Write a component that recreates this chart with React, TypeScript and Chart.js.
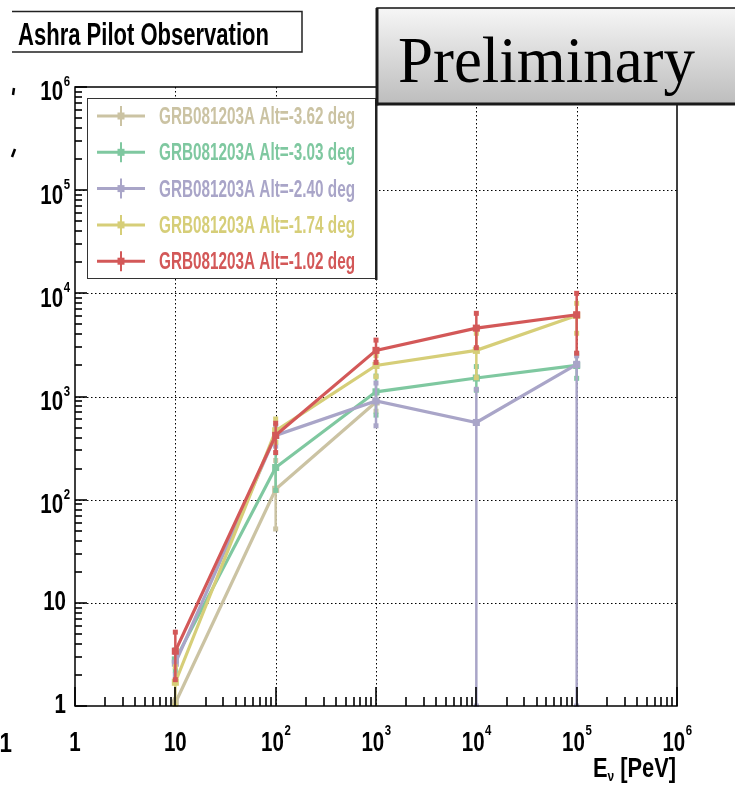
import React, { useEffect, useRef } from "react";
import { Chart, registerables } from "chart.js";

Chart.register(...registerables);

// ---------------- data ----------------
const energies = [10, 100, 1000, 10000, 100000];

const seriesLabels = [
  "GRB081203A Alt=-3.62 deg",
  "GRB081203A Alt=-3.03 deg",
  "GRB081203A Alt=-2.40 deg",
  "GRB081203A Alt=-1.74 deg",
  "GRB081203A Alt=-1.02 deg",
];
const seriesColors = ["#cbc3a3", "#7fc8a0", "#a9a5c8", "#d6ce78", "#d35858"];

const alt362 = [1.07, 126, 885, null, null];
const alt362Lo = [1.0, 52, 720, null, null];
const alt362Hi = [1.15, 240, 1080, null, null];

const alt303 = [2.8, 205, 1110, 1510, 2000];
const alt303Lo = [2.2, 123, 660, 1150, 1500];
const alt303Hi = [3.5, 360, 1580, 1950, 2600];

const alt240 = [2.6, 420, 905, 560, 2050];
const alt240Lo = [2.0, 330, 520, 1, 1];
const alt240Hi = [3.3, 520, 1350, 1175, 2480];

const alt174 = [1.7, 465, 2000, 2800, 6100];
const alt174Lo = [1, 360, 1550, 1520, 4100];
const alt174Hi = [2.4, 605, 2500, 4100, 8000];

const alt102 = [3.4, 420, 2800, 4600, 6200];
const alt102Lo = [1.8, 286, 2140, 2970, 2630];
const alt102Hi = [5.2, 550, 3520, 6400, 10000];

const seriesValues = [alt362, alt303, alt240, alt174, alt102];
const seriesLo = [alt362Lo, alt303Lo, alt240Lo, alt174Lo, alt102Lo];
const seriesHi = [alt362Hi, alt303Hi, alt240Hi, alt174Hi, alt102Hi];

const decades = [1, 10, 100, 1000, 10000, 100000, 1000000];
const tickBase = ["1", "10", "10", "10", "10", "10", "10"];
const tickExp = ["", "", "2", "3", "4", "5", "6"];

const titleText = "Ashra Pilot Observation";
const stampText = "Preliminary";
const xTitleMain = "E";
const xTitleSub = "\u03bd";
const xTitleRest = " [PeV]";

// ---------------- helpers ----------------
const SANS = "'Liberation Sans', Arial, sans-serif";

function drawScaled(
  ctx: CanvasRenderingContext2D,
  text: string,
  x: number,
  y: number,
  font: string,
  sx: number,
  align: "left" | "center" | "right",
  color: string
) {
  ctx.save();
  ctx.font = font;
  const w = ctx.measureText(text).width * sx;
  const left = align === "right" ? x - w : align === "center" ? x - w / 2 : x;
  ctx.translate(left, y);
  ctx.scale(sx, 1);
  ctx.textAlign = "left";
  ctx.textBaseline = "middle";
  ctx.fillStyle = color;
  ctx.fillText(text, 0, 0);
  ctx.restore();
  return w;
}

function measureScaled(ctx: CanvasRenderingContext2D, text: string, font: string, sx: number) {
  ctx.save();
  ctx.font = font;
  const w = ctx.measureText(text).width * sx;
  ctx.restore();
  return w;
}

function fitText(
  ctx: CanvasRenderingContext2D,
  text: string,
  left: number,
  y: number,
  font: string,
  width: number,
  color: string
) {
  ctx.save();
  ctx.font = font;
  const w = ctx.measureText(text).width;
  const sx = width / w;
  ctx.translate(left, y);
  ctx.scale(sx, 1);
  ctx.textAlign = "left";
  ctx.textBaseline = "alphabetic";
  ctx.fillStyle = color;
  ctx.fillText(text, 0, 0);
  ctx.restore();
}

const BASE_FONT = `bold 27px ${SANS}`;
const EXP_FONT = `bold 15px ${SANS}`;
const SX = 0.76;

function line(ctx: CanvasRenderingContext2D, x1: number, y1: number, x2: number, y2: number) {
  ctx.beginPath();
  ctx.moveTo(x1, y1);
  ctx.lineTo(x2, y2);
  ctx.stroke();
}

const rootPlugin = {
  id: "rootStyle",
  beforeDraw(chart: any) {
    const { ctx, width, height } = chart;
    ctx.save();
    ctx.fillStyle = "#ffffff";
    ctx.fillRect(0, 0, width, height);
    ctx.restore();
  },
  beforeDatasetsDraw(chart: any) {
    const { ctx, chartArea: a, scales } = chart;
    const xs = scales.x;
    const ys = scales.y;
    ctx.save();
    ctx.strokeStyle = "#000";
    ctx.lineWidth = 1;
    ctx.setLineDash([1.5, 2.5]);
    decades.slice(1, -1).forEach((d) => {
      const px = Math.round(xs.getPixelForValue(d)) + 0.5;
      line(ctx, px, a.top, px, a.bottom);
      const py = Math.round(ys.getPixelForValue(d)) + 0.5;
      line(ctx, a.left, py, a.right, py);
    });
    ctx.restore();
  },
  afterDatasetDraw(chart: any, args: any) {
    const i = args.index;
    const { ctx, chartArea: a, scales } = chart;
    const xs = scales.x;
    const ys = scales.y;
    const lo = seriesLo[i];
    const hi = seriesHi[i];
    const color = seriesColors[i];
    ctx.save();
    ctx.beginPath();
    ctx.rect(a.left, a.top - 1, a.right - a.left, a.bottom - a.top + 2);
    ctx.clip();
    ctx.strokeStyle = color;
    ctx.fillStyle = color;
    ctx.lineWidth = 2.5;
    energies.forEach((e, k) => {
      const l = lo[k];
      const h = hi[k];
      if (l == null || h == null) return;
      const px = xs.getPixelForValue(e);
      const pl = ys.getPixelForValue(l);
      const ph = ys.getPixelForValue(h);
      line(ctx, px, pl, px, ph);
      ctx.fillRect(px - 2.5, ph - 2.5, 5, 5);
      ctx.fillRect(px - 2.5, pl - 2.5, 5, 5);
    });
    ctx.restore();
  },
  afterDraw(chart: any) {
    const { ctx, chartArea: a, scales } = chart;
    const xs = scales.x;
    const ys = scales.y;
    ctx.save();
    ctx.setLineDash([]);

    // frame
    ctx.strokeStyle = "#000000";
    ctx.lineWidth = 1.5;
    ctx.strokeRect(a.left, a.top, a.right - a.left, a.bottom - a.top);

    // inner ticks (bottom & left)
    ctx.lineWidth = 1.6;
    ctx.strokeStyle = "#000000";
    for (let di = 0; di < decades.length; di++) {
      const d = decades[di];
      const pxMaj = Math.round(xs.getPixelForValue(d));
      line(ctx, pxMaj, a.bottom, pxMaj, a.bottom - 19);
      const pyMaj = Math.round(ys.getPixelForValue(d));
      line(ctx, a.left, pyMaj, a.left + 12, pyMaj);
      if (di === decades.length - 1) break;
      for (let k = 2; k <= 9; k++) {
        const px = Math.round(xs.getPixelForValue(d * k));
        line(ctx, px, a.bottom, px, a.bottom - 9);
        const py = Math.round(ys.getPixelForValue(d * k));
        line(ctx, a.left, py, a.left + 7, py);
      }
    }

    // tick labels
    decades.forEach((d, i) => {
      const base = tickBase[i];
      const exp = tickExp[i];
      const bw = measureScaled(ctx, base, BASE_FONT, SX);
      const ew = exp ? measureScaled(ctx, exp, EXP_FONT, SX) : 0;
      // x labels
      const px = xs.getPixelForValue(d);
      const total = bw + ew;
      const left = px - total / 2;
      drawScaled(ctx, base, left, 744, BASE_FONT, SX, "left", "#000");
      if (exp) drawScaled(ctx, exp, left + bw + 0.5, 731, EXP_FONT, SX, "left", "#000");
      // y labels
      const py = ys.getPixelForValue(d);
      if (exp) {
        const right = 70;
        drawScaled(ctx, exp, right, py - 5, EXP_FONT, SX, "right", "#000");
        drawScaled(ctx, base, right - ew - 0.5, py + 6, BASE_FONT, SX, "right", "#000");
      } else {
        drawScaled(ctx, base, 66, py, BASE_FONT, SX, "right", "#000");
      }
    });

    // x-axis title
    {
      const mainF = `bold 28px ${SANS}`;
      const subF = `bold 14px ${SANS}`;
      const wRest = measureScaled(ctx, xTitleRest, mainF, 0.78);
      const wSub = measureScaled(ctx, xTitleSub, subF, 0.85);
      const right = a.right - 1;
      const yMid = 769;
      drawScaled(ctx, xTitleRest, right, yMid, mainF, 0.78, "right", "#000");
      drawScaled(ctx, xTitleSub, right - wRest, yMid + 8, subF, 0.85, "right", "#000");
      drawScaled(ctx, xTitleMain, right - wRest - wSub, yMid, mainF, 0.78, "right", "#000");
    }

    // legend
    {
      const lx = 87, ly = 98, lw = 288, lh = 180;
      ctx.fillStyle = "#fff";
      ctx.fillRect(lx, ly, lw, lh);
      ctx.strokeStyle = "#333";
      ctx.lineWidth = 1;
      ctx.strokeRect(lx + 0.5, ly + 0.5, lw, lh);
      ctx.fillStyle = "#222";
      ctx.fillRect(lx + lw, ly + 2, 2.5, lh);
      const rows = chart.data.datasets;
      rows.forEach((ds: any, i: number) => {
        const cy = 116 + i * 36.3;
        const c = ds.borderColor;
        ctx.strokeStyle = c;
        ctx.fillStyle = c;
        ctx.lineWidth = 3;
        line(ctx, 97, cy, 145, cy);
        ctx.lineWidth = 2;
        line(ctx, 121, cy - 10, 121, cy + 10);
        ctx.fillRect(121 - 3.5, cy - 3.5, 7, 7);
        fitText(ctx, ds.label, 159, cy + 8, `bold 23px ${SANS}`, 196, c);
      });
    }

    // title box
    ctx.strokeStyle = "#222";
    ctx.lineWidth = 1.5;
    ctx.beginPath();
    ctx.moveTo(12, 11.5);
    ctx.lineTo(302, 11.5);
    ctx.lineTo(302, 52);
    ctx.lineTo(12, 52);
    ctx.stroke();
    fitText(ctx, titleText, 18, 45, `bold 31px ${SANS}`, 251, "#000");

    // preliminary stamp
    {
      const bx = 377, by = 8, bw = 370, bh = 96;
      const g = ctx.createLinearGradient(0, by, 0, by + bh);
      g.addColorStop(0, "#f6f6f6");
      g.addColorStop(1, "#bdbdbd");
      ctx.fillStyle = g;
      ctx.fillRect(bx, by, bw, bh);
      ctx.strokeStyle = "#111";
      ctx.lineWidth = 1.5;
      ctx.strokeRect(bx, by, bw, bh);
      ctx.fillStyle = "#1a1a1a";
      ctx.fillRect(bx - 1.5, by, 3, bh + 1.5);
      ctx.fillRect(bx - 1.5, by + bh - 1.5, bw, 3);
      fitText(ctx, stampText, 398, 82, `66px 'Liberation Serif', 'Times New Roman', serif`, 297, "#000");
    }

    // clipped fragments at the left edge
    ctx.strokeStyle = "#000";
    ctx.lineWidth = 2.5;
    line(ctx, 14, 88, 13, 95);
    line(ctx, 15, 149, 12, 157);
    drawScaled(ctx, "1", 12, 744, `bold 28px ${SANS}`, 0.8, "right", "#000");

    ctx.restore();
  },
};

export default function App() {
  const ref = useRef<HTMLCanvasElement | null>(null);
  useEffect(() => {
    if (!ref.current) return;
    const datasets = seriesValues.map((vals, i) => ({
      label: seriesLabels[i],
      data: energies.map((e, k) => ({ x: e, y: vals[k] })),
      borderColor: seriesColors[i],
      backgroundColor: seriesColors[i],
      borderWidth: 3.2,
      pointStyle: "rect",
      pointRadius: 5,
      pointBorderWidth: 0,
      pointBackgroundColor: seriesColors[i],
      tension: 0,
      spanGaps: false,
      order: seriesValues.length - i,
    }));
    const chart = new Chart(ref.current, {
      type: "line",
      data: { datasets },
      options: {
        animation: false,
        responsive: false,
        devicePixelRatio: 1,
        layout: { padding: { top: 87, right: 58, left: 0, bottom: 0 } },
        plugins: { legend: { display: false }, tooltip: { enabled: false }, title: { display: false } },
        scales: {
          x: {
            type: "logarithmic",
            min: 1,
            max: 1000000,
            grid: { display: false },
            border: { display: false },
            ticks: { display: false },
            afterFit: (s: any) => {
              s.height = 79;
            },
          },
          y: {
            type: "logarithmic",
            min: 1,
            max: 1000000,
            grid: { display: false },
            border: { display: false },
            ticks: { display: false },
            afterFit: (s: any) => {
              s.width = 75;
            },
          },
        },
      } as any,
      plugins: [rootPlugin],
    });
    return () => chart.destroy();
  }, []);
  return (
    <div style={{ position: "absolute", left: 0, top: 0, width: 735, height: 785, background: "#fff" }}>
      <canvas ref={ref} width={735} height={785} style={{ display: "block" }} />
    </div>
  );
}
